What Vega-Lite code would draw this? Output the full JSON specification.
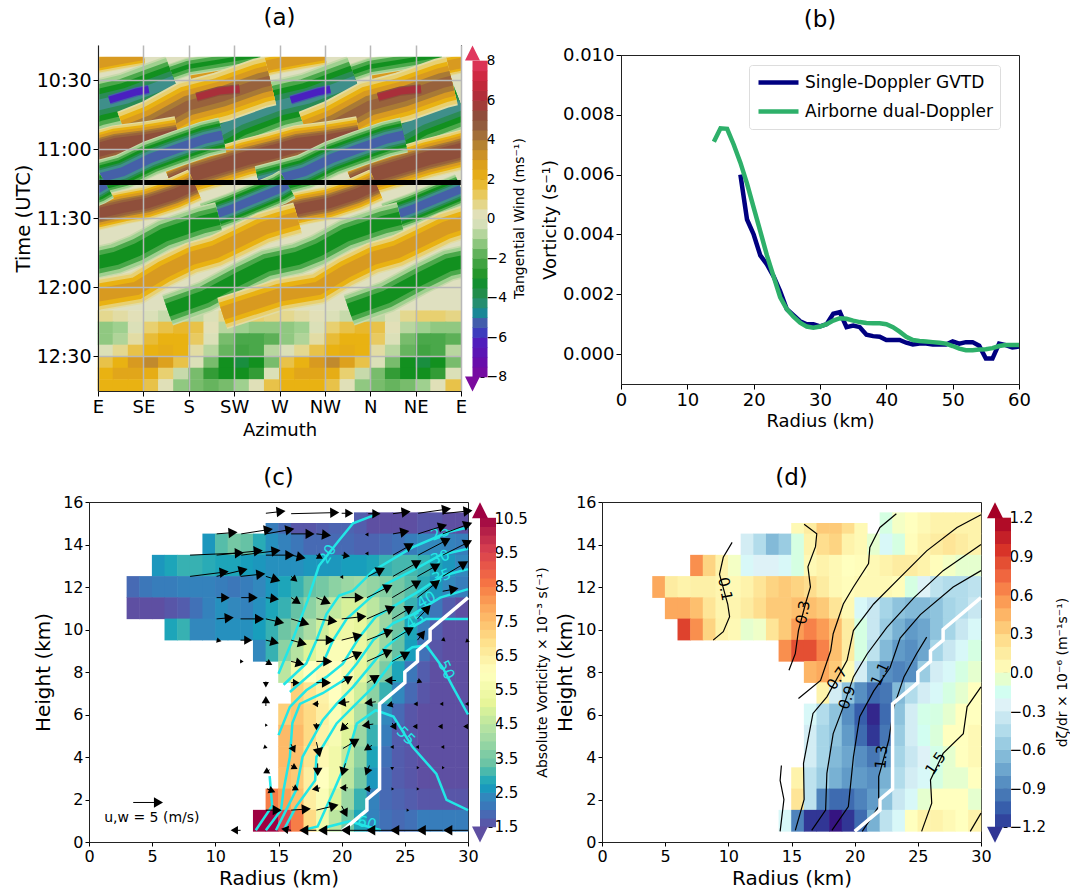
{"$schema":"https://vega.github.io/schema/vega-lite/v6.json","background":"white","padding":{"left":12,"top":6,"right":0,"bottom":0},"bounds":"flush","spacing":457,"resolve":{"scale":{"color":"independent","shape":"independent","angle":"independent","size":"independent"},"legend":{"color":"independent"}},
"config":{"font":"DejaVu Sans","view":{"stroke":"#222"},"axis":{"grid":false,"labelColor":"black","titleColor":"black","tickColor":"black","domainColor":"#222","titleFontWeight":"normal","labelFont":"DejaVu Sans","titleFont":"DejaVu Sans","labelOverlap":false,"labelFlush":false},"title":{"fontWeight":"normal","fontSize":23,"font":"DejaVu Sans"}},
"datasets":{
"cells":[
{"r":14.5,"z":14.5,"c":2.2},{"r":15.5,"z":14.5,"c":1.9,"d":0.05},{"r":16.5,"z":14.5,"c":1.6,"d":0.15},{"r":17.5,"z":14.5,"c":1.6,"d":0.35},{"r":18.5,"z":14.5,"c":1.7,"d":0.35},{"r":19.5,"z":14.5,"c":1.8,"d":0.25},{"r":20.5,"z":14.5,"c":1.8,"d":0.05},
{"r":21.5,"z":15,"c":1.7},{"r":22.5,"z":15,"c":1.5,"d":-0.1},{"r":23.5,"z":15,"c":1.5,"d":-0.02},{"r":24.5,"z":15,"c":1.5,"d":0},{"r":25.5,"z":15,"c":1.5,"d":0.05},{"r":26.5,"z":15,"c":1.6,"d":0.1},{"r":27.5,"z":15,"c":1.6,"d":0.1},{"r":28.5,"z":15,"c":1.5,"d":0.1},{"r":29.5,"z":15,"c":1.5,"d":0.1},
{"r":9.5,"z":14,"c":2.6},{"r":10.5,"z":14,"c":3.2},{"r":11.5,"z":14,"c":3.5,"d":-0.3},{"r":12.5,"z":14,"c":3.3,"d":-0.45},{"r":13.5,"z":14,"c":2.9,"d":-0.65},{"r":14.5,"z":14,"c":2.5,"d":-0.55},{"r":15.5,"z":14,"c":2.3,"d":-0.1},{"r":16.5,"z":14,"c":2.1,"d":0.1},{"r":17.5,"z":14,"c":1.9,"d":0.25},{"r":18.5,"z":14,"c":1.9,"d":0.3},{"r":19.5,"z":14,"c":1.9,"d":0.1},{"r":20.5,"z":14,"c":1.9,"d":0.05},{"r":21.5,"z":14,"c":1.8,"d":-0.05},{"r":22.5,"z":14,"c":1.8,"d":-0.2},{"r":23.5,"z":14,"c":1.9,"d":-0.1},{"r":24.5,"z":14,"c":2,"d":0.02},{"r":25.5,"z":14,"c":2.2,"d":0.1},{"r":26.5,"z":14,"c":2.4,"d":0.15},{"r":27.5,"z":14,"c":2.4,"d":0.2},{"r":28.5,"z":14,"c":2.3,"d":0.15},{"r":29.5,"z":14,"c":2.2,"d":0.1},
{"r":5.5,"z":13,"c":2.6},{"r":6.5,"z":13,"c":2.8},{"r":7.5,"z":13,"c":3,"d":0.6},{"r":8.5,"z":13,"c":3,"d":0.3},{"r":9.5,"z":13,"c":2.9,"d":0.1},{"r":10.5,"z":13,"c":2.8,"d":-0.02},{"r":11.5,"z":13,"c":2.8,"d":-0.2},{"r":12.5,"z":13,"c":2.7,"d":-0.25},{"r":13.5,"z":13,"c":2.6,"d":-0.25},{"r":14.5,"z":13,"c":2.5,"d":-0.2},{"r":15.5,"z":13,"c":2.5,"d":-0.1},{"r":16.5,"z":13,"c":2.5,"d":0.05},{"r":17.5,"z":13,"c":2.6,"d":0.1},{"r":18.5,"z":13,"c":2.6,"d":0.05},{"r":19.5,"z":13,"c":2.6,"d":0},{"r":20.5,"z":13,"c":2.7,"d":0.02},{"r":21.5,"z":13,"c":2.7,"d":0.05},{"r":22.5,"z":13,"c":2.8,"d":0.1},{"r":23.5,"z":13,"c":3,"d":0.15},{"r":24.5,"z":13,"c":3.1,"d":0.15},{"r":25.5,"z":13,"c":3.1,"d":0.1},{"r":26.5,"z":13,"c":3,"d":0.02},{"r":27.5,"z":13,"c":2.8,"d":-0.02},{"r":28.5,"z":13,"c":2.6,"d":-0.05},{"r":29.5,"z":13,"c":2.4,"d":-0.05},
{"r":3.5,"z":12,"c":1.9},{"r":4.5,"z":12,"c":2.1,"d":0.5},{"r":5.5,"z":12,"c":2.2,"d":0.15},{"r":6.5,"z":12,"c":2.2,"d":0.1},{"r":7.5,"z":12,"c":2.3,"d":0.12},{"r":8.5,"z":12,"c":2.3,"d":0.12},{"r":9.5,"z":12,"c":2.3,"d":0.08},{"r":10.5,"z":12,"c":2.2,"d":0.05},{"r":11.5,"z":12,"c":2.1,"d":0.1},{"r":12.5,"z":12,"c":2.2,"d":0.2},{"r":13.5,"z":12,"c":2.4,"d":0.3},{"r":14.5,"z":12,"c":2.6,"d":0.35},{"r":15.5,"z":12,"c":2.8,"d":0.3},{"r":16.5,"z":12,"c":3,"d":0.25},{"r":17.5,"z":12,"c":3.3,"d":0.15},{"r":18.5,"z":12,"c":3.5,"d":0.05},{"r":19.5,"z":12,"c":3.8,"d":0.02},{"r":20.5,"z":12,"c":4,"d":0.05},{"r":21.5,"z":12,"c":4.1,"d":0.05},{"r":22.5,"z":12,"c":3.9,"d":0.05},{"r":23.5,"z":12,"c":3.7,"d":0.02},{"r":24.5,"z":12,"c":3.5,"d":-0.1},{"r":25.5,"z":12,"c":3.2,"d":-0.25},{"r":26.5,"z":12,"c":2.9,"d":-0.4},{"r":27.5,"z":12,"c":2.6,"d":-0.45},{"r":28.5,"z":12,"c":2.4,"d":-0.45},{"r":29.5,"z":12,"c":2.2,"d":-0.4},
{"r":3.5,"z":11,"c":1.5},{"r":4.5,"z":11,"c":1.5},{"r":5.5,"z":11,"c":1.5,"d":0.5},{"r":6.5,"z":11,"c":1.6,"d":0.5},{"r":7.5,"z":11,"c":1.7,"d":0.4},{"r":8.5,"z":11,"c":2,"d":0.2},{"r":9.5,"z":11,"c":2.3,"d":0.08},{"r":10.5,"z":11,"c":2.5,"d":0.08},{"r":11.5,"z":11,"c":2.4,"d":0.15},{"r":12.5,"z":11,"c":2.3,"d":0.25},{"r":13.5,"z":11,"c":2.5,"d":0.35},{"r":14.5,"z":11,"c":2.8,"d":0.35},{"r":15.5,"z":11,"c":3,"d":0.4},{"r":16.5,"z":11,"c":3.3,"d":0.4},{"r":17.5,"z":11,"c":3.8,"d":0.35},{"r":18.5,"z":11,"c":4.2,"d":0.2},{"r":19.5,"z":11,"c":4.6,"d":0.05},{"r":20.5,"z":11,"c":4.9,"d":-0.2},{"r":21.5,"z":11,"c":4.9,"d":-0.35},{"r":22.5,"z":11,"c":4.5,"d":-0.5},{"r":23.5,"z":11,"c":4,"d":-0.6},{"r":24.5,"z":11,"c":3.5,"d":-0.65},{"r":25.5,"z":11,"c":3,"d":-0.65},{"r":26.5,"z":11,"c":2.5,"d":-0.6},{"r":27.5,"z":11,"c":2.1,"d":-0.5},{"r":28.5,"z":11,"c":1.7,"d":-0.45},{"r":29.5,"z":11,"c":1.5,"d":-0.35},
{"r":6.5,"z":10,"c":2.8,"d":0.9},{"r":7.5,"z":10,"c":3,"d":0.6},{"r":8.5,"z":10,"c":2.4,"d":0.3},{"r":9.5,"z":10,"c":2.4,"d":0.1},{"r":10.5,"z":10,"c":2.5,"d":0.05},{"r":11.5,"z":10,"c":2.5,"d":-0.05},{"r":12.5,"z":10,"c":2.5,"d":-0.03},{"r":13.5,"z":10,"c":2.7,"d":0.2},{"r":14.5,"z":10,"c":3,"d":0.35},{"r":15.5,"z":10,"c":3.4,"d":0.55},{"r":16.5,"z":10,"c":3.7,"d":0.65},{"r":17.5,"z":10,"c":4.2,"d":0.55},{"r":18.5,"z":10,"c":4.8,"d":0.4},{"r":19.5,"z":10,"c":5.3,"d":0.15},{"r":20.5,"z":10,"c":5.4,"d":-0.1},{"r":21.5,"z":10,"c":5.2,"d":-0.35},{"r":22.5,"z":10,"c":4.7,"d":-0.55},{"r":23.5,"z":10,"c":4,"d":-0.7},{"r":24.5,"z":10,"c":3.4,"d":-0.8},{"r":25.5,"z":10,"c":2.8,"d":-0.75},{"r":26.5,"z":10,"c":2.2,"d":-0.6},{"r":27.5,"z":10,"c":1.7,"d":-0.5},{"r":28.5,"z":10,"c":1.5,"d":-0.35},{"r":29.5,"z":10,"c":1.5,"d":-0.2},
{"r":13.5,"z":9,"c":2.4},{"r":14.5,"z":9,"c":3,"d":0.6},{"r":15.5,"z":9,"c":3.8,"d":0.85},{"r":16.5,"z":9,"c":4.4,"d":0.85},{"r":17.5,"z":9,"c":5,"d":0.65},{"r":18.5,"z":9,"c":5.5,"d":0.4},{"r":19.5,"z":9,"c":5.8,"d":0.15},{"r":20.5,"z":9,"c":5.8,"d":-0.1},{"r":21.5,"z":9,"c":5.3,"d":-0.4},{"r":22.5,"z":9,"c":4.7,"d":-0.65},{"r":23.5,"z":9,"c":4,"d":-0.8},{"r":24.5,"z":9,"c":3.3,"d":-0.85},{"r":25.5,"z":9,"c":2.7,"d":-0.75},{"r":26.5,"z":9,"c":2,"d":-0.5},{"r":27.5,"z":9,"c":1.6,"d":-0.35},{"r":28.5,"z":9,"c":1.5,"d":-0.2},{"r":29.5,"z":9,"c":1.5,"d":-0.1},
{"r":15.5,"z":8,"c":4.5},{"r":16.5,"z":8,"c":5.5,"d":0.45},{"r":17.5,"z":8,"c":6,"d":0.5},{"r":18.5,"z":8,"c":6.2,"d":0.35},{"r":19.5,"z":8,"c":6,"d":0.05},{"r":20.5,"z":8,"c":5.7,"d":-0.3},{"r":21.5,"z":8,"c":5.2,"d":-0.65},{"r":22.5,"z":8,"c":4.5,"d":-0.85},{"r":23.5,"z":8,"c":3.6,"d":-0.9},{"r":24.5,"z":8,"c":2.8,"d":-0.85},{"r":25.5,"z":8,"c":2.1,"d":-0.55},{"r":26.5,"z":8,"c":1.7,"d":-0.3},{"r":27.5,"z":8,"c":1.5,"d":-0.2},{"r":28.5,"z":8,"c":1.5,"d":-0.1},{"r":29.5,"z":8,"c":1.5,"d":-0.05},
{"r":16.5,"z":7,"c":7.2},{"r":17.5,"z":7,"c":6.8,"d":0.1},{"r":18.5,"z":7,"c":6.4,"d":-0.3},{"r":19.5,"z":7,"c":6,"d":-0.6},{"r":20.5,"z":7,"c":5.5,"d":-0.85},{"r":21.5,"z":7,"c":4.8,"d":-1},{"r":22.5,"z":7,"c":3.8,"d":-0.95},{"r":23.5,"z":7,"c":3,"d":-0.65},{"r":24.5,"z":7,"c":2.4,"d":-0.45},{"r":25.5,"z":7,"c":1.9,"d":-0.3},{"r":26.5,"z":7,"c":1.6,"d":-0.2},{"r":27.5,"z":7,"c":1.5,"d":-0.1},{"r":28.5,"z":7,"c":1.5,"d":-0.05},{"r":29.5,"z":7,"c":1.5,"d":0},
{"r":15.5,"z":6,"c":7.2},{"r":16.5,"z":6,"c":7.4,"d":-0.2},{"r":17.5,"z":6,"c":7,"d":-0.45},{"r":18.5,"z":6,"c":6.5,"d":-0.6},{"r":19.5,"z":6,"c":5.8,"d":-0.85},{"r":20.5,"z":6,"c":5.2,"d":-1.05},{"r":21.5,"z":6,"c":4.3,"d":-1.25},{"r":22.5,"z":6,"c":3.2,"d":-1},{"r":23.5,"z":6,"c":2.4,"d":-0.6},{"r":24.5,"z":6,"c":1.9,"d":-0.3},{"r":25.5,"z":6,"c":1.6,"d":-0.12},{"r":26.5,"z":6,"c":1.5,"d":-0.1},{"r":27.5,"z":6,"c":1.5,"d":-0.05},{"r":28.5,"z":6,"c":1.5,"d":0},{"r":29.5,"z":6,"c":1.5,"d":0},
{"r":15.5,"z":5,"c":7.6},{"r":16.5,"z":5,"c":7.6,"d":-0.3},{"r":17.5,"z":5,"c":7,"d":-0.5},{"r":18.5,"z":5,"c":6.4,"d":-0.6},{"r":19.5,"z":5,"c":5.7,"d":-0.8},{"r":20.5,"z":5,"c":5,"d":-1},{"r":21.5,"z":5,"c":4,"d":-1.2},{"r":22.5,"z":5,"c":3,"d":-0.95},{"r":23.5,"z":5,"c":2.2,"d":-0.55},{"r":24.5,"z":5,"c":1.7,"d":-0.3},{"r":25.5,"z":5,"c":1.6,"d":-0.15},{"r":26.5,"z":5,"c":1.5,"d":-0.08},{"r":27.5,"z":5,"c":1.5,"d":0},{"r":28.5,"z":5,"c":1.5,"d":0},{"r":29.5,"z":5,"c":1.5,"d":0.05},
{"r":15.5,"z":4,"c":7.6},{"r":16.5,"z":4,"c":7.5,"d":-0.3},{"r":17.5,"z":4,"c":6.8,"d":-0.5},{"r":18.5,"z":4,"c":6.2,"d":-0.65},{"r":19.5,"z":4,"c":5.5,"d":-0.75},{"r":20.5,"z":4,"c":4.6,"d":-0.85},{"r":21.5,"z":4,"c":3.8,"d":-0.95},{"r":22.5,"z":4,"c":2.8,"d":-0.8},{"r":23.5,"z":4,"c":2,"d":-0.5},{"r":24.5,"z":4,"c":1.7,"d":-0.35},{"r":25.5,"z":4,"c":1.6,"d":-0.25},{"r":26.5,"z":4,"c":1.5,"d":-0.12},{"r":27.5,"z":4,"c":1.5,"d":-0.05},{"r":28.5,"z":4,"c":1.5,"d":0},{"r":29.5,"z":4,"c":1.5,"d":0.05},
{"r":15.5,"z":3,"c":7.5,"d":0.1},{"r":16.5,"z":3,"c":7.3,"d":-0.4},{"r":17.5,"z":3,"c":6.5,"d":-0.55},{"r":18.5,"z":3,"c":6,"d":-0.7},{"r":19.5,"z":3,"c":5.5,"d":-0.8},{"r":20.5,"z":3,"c":4.5,"d":-0.8},{"r":21.5,"z":3,"c":3.5,"d":-0.85},{"r":22.5,"z":3,"c":2.6,"d":-0.7},{"r":23.5,"z":3,"c":1.9,"d":-0.45},{"r":24.5,"z":3,"c":1.7,"d":-0.3},{"r":25.5,"z":3,"c":1.6,"d":-0.2},{"r":26.5,"z":3,"c":1.5,"d":-0.1},{"r":27.5,"z":3,"c":1.5,"d":-0.05},{"r":28.5,"z":3,"c":1.5,"d":-0.05},{"r":29.5,"z":3,"c":1.5,"d":0},
{"r":14.5,"z":2,"c":8.5},{"r":15.5,"z":2,"c":8,"d":0.2},{"r":16.5,"z":2,"c":7.5,"d":-0.4},{"r":17.5,"z":2,"c":6.5,"d":-0.9},{"r":18.5,"z":2,"c":5.8,"d":-1},{"r":19.5,"z":2,"c":5,"d":-1},{"r":20.5,"z":2,"c":4,"d":-0.9},{"r":21.5,"z":2,"c":3,"d":-0.8},{"r":22.5,"z":2,"c":2.3,"d":-0.6},{"r":23.5,"z":2,"c":1.9,"d":-0.35},{"r":24.5,"z":2,"c":1.8,"d":-0.2},{"r":25.5,"z":2,"c":1.7,"d":-0.05},{"r":26.5,"z":2,"c":1.6,"d":0},{"r":27.5,"z":2,"c":1.6,"d":0},{"r":28.5,"z":2,"c":1.6,"d":0},{"r":29.5,"z":2,"c":1.6,"d":-0.05},
{"r":13.5,"z":1,"c":10.5},{"r":14.5,"z":1,"c":10.5,"d":-0.2},{"r":15.5,"z":1,"c":9.5,"d":-0.9},{"r":16.5,"z":1,"c":8.5,"d":-1.2},{"r":17.5,"z":1,"c":7,"d":-1.2},{"r":18.5,"z":1,"c":5.5,"d":-1.3},{"r":19.5,"z":1,"c":4.5,"d":-1.2},{"r":20.5,"z":1,"c":3.5,"d":-1},{"r":21.5,"z":1,"c":2.8,"d":-0.7},{"r":22.5,"z":1,"c":2.3,"d":-0.4},{"r":23.5,"z":1,"c":2,"d":-0.2},{"r":24.5,"z":1,"c":1.9,"d":0},{"r":25.5,"z":1,"c":2,"d":0.1},{"r":26.5,"z":1,"c":2.2,"d":0.1},{"r":27.5,"z":1,"c":2.2,"d":0.05},{"r":28.5,"z":1,"c":2.2,"d":0},{"r":29.5,"z":1,"c":2.2,"d":0.1}
],
"wind":[
{"r":30,"z":11.5},{"r":27,"z":10},{"r":27,"z":9.5},{"r":26,"z":9},{"r":26,"z":8.5},{"r":25,"z":8},{"r":25,"z":7.5},{"r":23,"z":6.5},{"r":23,"z":2.5},{"r":22,"z":2},{"r":22,"z":1.5},{"r":20,"z":0.5}
],
"meta":[{"i":"A1","s":1,"A":4,"h":23,"m":0},{"i":"A2","s":-1,"A":3.2,"h":20,"m":0},{"i":"Bn","s":-1,"A":4.8,"h":56,"m":0},{"i":"Bp","s":1,"A":4.8,"h":54,"m":0},{"i":"Bi","s":-1,"A":7,"h":20,"m":5},{"i":"Br","s":1,"A":7,"h":20,"m":5},{"i":"Cp","s":1,"A":6,"h":42,"m":0},{"i":"Cn","s":-1,"A":5.6,"h":38,"m":0},{"i":"Dp","s":1,"A":5.8,"h":36,"m":0},{"i":"Dn","s":-1,"A":5.6,"h":34,"m":0},{"i":"En","s":-1,"A":3.6,"h":36,"m":0},{"i":"Ep","s":1,"A":3.6,"h":36,"m":0}],
"stripes":[
{"i":"A1","n":0,"x":92.7,"y":30.3},{"i":"A1","n":0,"x":133.5,"y":27.1},{"i":"A1","n":0,"x":174.3,"y":23.1},{"i":"A1","n":0,"x":201.4,"y":20.9},{"i":"A1","n":0,"x":225.2,"y":19.1},
{"i":"A1","n":1,"x":-87.3,"y":30.3},{"i":"A1","n":1,"x":-46.5,"y":27.1},{"i":"A1","n":1,"x":-5.7,"y":23.1},{"i":"A1","n":1,"x":21.4,"y":20.9},{"i":"A1","n":1,"x":45.2,"y":19.1},
{"i":"A1","n":2,"x":272.7,"y":30.3},{"i":"A1","n":2,"x":313.5,"y":27.1},{"i":"A1","n":2,"x":354.3,"y":23.1},{"i":"A1","n":2,"x":381.4,"y":20.9},
{"i":"A2","n":0,"x":48.6,"y":30.3},{"i":"A2","n":0,"x":89.3,"y":24.2},{"i":"A2","n":0,"x":123.3,"y":21.8},{"i":"A2","n":0,"x":160.7,"y":19.1},
{"i":"A2","n":1,"x":228.6,"y":30.3},{"i":"A2","n":1,"x":269.3,"y":24.2},{"i":"A2","n":1,"x":303.3,"y":21.8},{"i":"A2","n":1,"x":340.7,"y":19.1},
{"i":"Bn","n":0,"x":113.1,"y":53.9},{"i":"Bn","n":0,"x":140.3,"y":47.4},{"i":"Bn","n":0,"x":180,"y":40.9},{"i":"Bn","n":0,"x":208.2,"y":38},{"i":"Bn","n":0,"x":235.4,"y":33.6},{"i":"Bn","n":0,"x":255.8,"y":30.3},
{"i":"Bn","n":1,"x":-66.9,"y":53.9},{"i":"Bn","n":1,"x":-39.7,"y":47.4},{"i":"Bn","n":1,"x":0,"y":40.9},{"i":"Bn","n":1,"x":28.2,"y":38},{"i":"Bn","n":1,"x":55.4,"y":33.6},{"i":"Bn","n":1,"x":75.8,"y":30.3},
{"i":"Bn","n":2,"x":293.1,"y":53.9},{"i":"Bn","n":2,"x":320.3,"y":47.4},{"i":"Bn","n":2,"x":360,"y":40.9},
{"i":"Bp","n":0,"x":28.2,"y":53.9},{"i":"Bp","n":0,"x":55.4,"y":49.2},{"i":"Bp","n":0,"x":89.3,"y":41.1},{"i":"Bp","n":0,"x":123.3,"y":37.2},{"i":"Bp","n":0,"x":160.7,"y":31.4},{"i":"Bp","n":0,"x":170.9,"y":30.3},
{"i":"Bp","n":1,"x":208.2,"y":53.9},{"i":"Bp","n":1,"x":235.4,"y":49.2},{"i":"Bp","n":1,"x":269.3,"y":41.1},{"i":"Bp","n":1,"x":303.3,"y":37.2},{"i":"Bp","n":1,"x":340.7,"y":31.4},{"i":"Bp","n":1,"x":350.9,"y":30.3},
{"i":"Bi","n":0,"x":11.2,"y":38.7},{"i":"Bi","n":0,"x":38.4,"y":35.1},{"i":"Bi","n":0,"x":50.3,"y":34.1},
{"i":"Bi","n":1,"x":191.2,"y":38.7},{"i":"Bi","n":1,"x":218.4,"y":35.1},{"i":"Bi","n":1,"x":230.3,"y":34.1},
{"i":"Br","n":0,"x":97.8,"y":37.5},{"i":"Br","n":0,"x":119.9,"y":34.8},{"i":"Br","n":0,"x":140.3,"y":33.9},
{"i":"Br","n":1,"x":277.8,"y":37.5},{"i":"Br","n":1,"x":299.9,"y":34.8},{"i":"Br","n":1,"x":320.3,"y":33.9},
{"i":"Cp","n":0,"x":72.4,"y":74.9},{"i":"Cp","n":0,"x":92.7,"y":71.2},{"i":"Cp","n":0,"x":119.9,"y":67.6},{"i":"Cp","n":0,"x":147.1,"y":64},{"i":"Cp","n":0,"x":174.3,"y":61.1},{"i":"Cp","n":0,"x":198,"y":58.2},{"i":"Cp","n":0,"x":228.6,"y":56.5},{"i":"Cp","n":0,"x":259.2,"y":54.3},
{"i":"Cp","n":1,"x":-60.1,"y":67.6},{"i":"Cp","n":1,"x":-32.9,"y":64},{"i":"Cp","n":1,"x":-5.7,"y":61.1},{"i":"Cp","n":1,"x":18,"y":58.2},{"i":"Cp","n":1,"x":48.6,"y":56.5},{"i":"Cp","n":1,"x":79.2,"y":54.3},
{"i":"Cp","n":2,"x":252.4,"y":74.9},{"i":"Cp","n":2,"x":272.7,"y":71.2},{"i":"Cp","n":2,"x":299.9,"y":67.6},{"i":"Cp","n":2,"x":327.1,"y":64},{"i":"Cp","n":2,"x":354.3,"y":61.1},{"i":"Cp","n":2,"x":378,"y":58.2},
{"i":"Cn","n":0,"x":-20,"y":75},{"i":"Cn","n":0,"x":0,"y":72.7},{"i":"Cn","n":0,"x":24.8,"y":69.8},{"i":"Cn","n":0,"x":52,"y":64},{"i":"Cn","n":0,"x":79.1,"y":59.7},{"i":"Cn","n":0,"x":106.3,"y":55.6},{"i":"Cn","n":0,"x":123.3,"y":53.9},
{"i":"Cn","n":1,"x":160,"y":75},{"i":"Cn","n":1,"x":180,"y":72.7},{"i":"Cn","n":1,"x":204.8,"y":69.8},{"i":"Cn","n":1,"x":232,"y":64},{"i":"Cn","n":1,"x":259.1,"y":59.7},{"i":"Cn","n":1,"x":286.3,"y":55.6},{"i":"Cn","n":1,"x":303.3,"y":53.9},
{"i":"Dp","n":0,"x":-24.5,"y":90},{"i":"Dp","n":0,"x":0,"y":87.9},{"i":"Dp","n":0,"x":24.8,"y":85.4},{"i":"Dp","n":0,"x":48.6,"y":83.5},{"i":"Dp","n":0,"x":75.7,"y":79.6},{"i":"Dp","n":0,"x":96.1,"y":75.6},
{"i":"Dp","n":1,"x":155.5,"y":90},{"i":"Dp","n":1,"x":180,"y":87.9},{"i":"Dp","n":1,"x":204.8,"y":85.4},{"i":"Dp","n":1,"x":228.6,"y":83.5},{"i":"Dp","n":1,"x":255.7,"y":79.6},{"i":"Dp","n":1,"x":276.1,"y":75.6},
{"i":"Dn","n":0,"x":106.3,"y":90},{"i":"Dn","n":0,"x":133.5,"y":85.7},{"i":"Dn","n":0,"x":157.3,"y":81.4},{"i":"Dn","n":0,"x":180,"y":77.3},{"i":"Dn","n":0,"x":187.8,"y":75.3},
{"i":"Dn","n":1,"x":-73.7,"y":90},{"i":"Dn","n":1,"x":-46.5,"y":85.7},{"i":"Dn","n":1,"x":-22.7,"y":81.4},{"i":"Dn","n":1,"x":0,"y":77.3},{"i":"Dn","n":1,"x":7.8,"y":75.3},
{"i":"Dn","n":2,"x":286.3,"y":90},{"i":"Dn","n":2,"x":313.5,"y":85.7},{"i":"Dn","n":2,"x":337.3,"y":81.4},{"i":"Dn","n":2,"x":360,"y":77.3},
{"i":"En","n":0,"x":69,"y":129.9},{"i":"En","n":0,"x":106.3,"y":124.1},{"i":"En","n":0,"x":140.3,"y":116.1},{"i":"En","n":0,"x":167.5,"y":110.3},{"i":"En","n":0,"x":198,"y":107.4},{"i":"En","n":0,"x":218.4,"y":103.8},{"i":"En","n":0,"x":245.6,"y":97.3},{"i":"En","n":0,"x":283,"y":91.8},{"i":"En","n":0,"x":300,"y":90},
{"i":"En","n":1,"x":-39.7,"y":116.1},{"i":"En","n":1,"x":-12.5,"y":110.3},{"i":"En","n":1,"x":18,"y":107.4},{"i":"En","n":1,"x":38.4,"y":103.8},{"i":"En","n":1,"x":65.6,"y":97.3},{"i":"En","n":1,"x":103,"y":91.8},{"i":"En","n":1,"x":120,"y":90},
{"i":"En","n":2,"x":249,"y":129.9},{"i":"En","n":2,"x":286.3,"y":124.1},{"i":"En","n":2,"x":320.3,"y":116.1},{"i":"En","n":2,"x":347.5,"y":110.3},{"i":"En","n":2,"x":378,"y":107.4},
{"i":"Ep","n":0,"x":123.3,"y":131.3},{"i":"Ep","n":0,"x":153.9,"y":127},{"i":"Ep","n":0,"x":180,"y":123.3},{"i":"Ep","n":0,"x":218.4,"y":120.4},{"i":"Ep","n":0,"x":245.6,"y":113.2},{"i":"Ep","n":0,"x":272.8,"y":107.4},{"i":"Ep","n":0,"x":296.5,"y":104.5},{"i":"Ep","n":0,"x":320.3,"y":99.5},{"i":"Ep","n":0,"x":344.1,"y":94.4},{"i":"Ep","n":0,"x":360,"y":92.2},{"i":"Ep","n":0,"x":378,"y":90},
{"i":"Ep","n":1,"x":-56.7,"y":131.3},{"i":"Ep","n":1,"x":-26.1,"y":127},{"i":"Ep","n":1,"x":0,"y":123.3},{"i":"Ep","n":1,"x":38.4,"y":120.4},{"i":"Ep","n":1,"x":65.6,"y":113.2},{"i":"Ep","n":1,"x":92.8,"y":107.4},{"i":"Ep","n":1,"x":116.5,"y":104.5},{"i":"Ep","n":1,"x":140.3,"y":99.5},{"i":"Ep","n":1,"x":164.1,"y":94.4},{"i":"Ep","n":1,"x":180,"y":92.2},{"i":"Ep","n":1,"x":198,"y":90}
],
"av":[
{"x":7.5,"y":132.5,"v":0.7},{"x":22.5,"y":132.5,"v":0.5},{"x":37.5,"y":132.5,"v":0.3},{"x":52.5,"y":132.5,"v":0},{"x":67.5,"y":132.5,"v":-0.5},{"x":82.5,"y":132.5,"v":-0.8},{"x":97.5,"y":132.5,"v":-0.6},{"x":112.5,"y":132.5,"v":0},{"x":127.5,"y":132.5,"v":0.7},{"x":142.5,"y":132.5,"v":1},{"x":157.5,"y":132.5,"v":1},{"x":172.5,"y":132.5,"v":0.8},{"x":187.5,"y":132.5,"v":0.7},{"x":202.5,"y":132.5,"v":0.5},{"x":217.5,"y":132.5,"v":0.3},{"x":232.5,"y":132.5,"v":0},{"x":247.5,"y":132.5,"v":-0.5},{"x":262.5,"y":132.5,"v":-0.8},{"x":277.5,"y":132.5,"v":-0.6},{"x":292.5,"y":132.5,"v":0},{"x":307.5,"y":132.5,"v":0.7},{"x":322.5,"y":132.5,"v":1},{"x":337.5,"y":132.5,"v":1},{"x":352.5,"y":132.5,"v":0.8},
{"x":7.5,"y":137.5,"v":-1.2},{"x":22.5,"y":137.5,"v":-1},{"x":37.5,"y":137.5,"v":0},{"x":52.5,"y":137.5,"v":1},{"x":67.5,"y":137.5,"v":1.5},{"x":82.5,"y":137.5,"v":1.8},{"x":97.5,"y":137.5,"v":1.5},{"x":112.5,"y":137.5,"v":0.3},{"x":127.5,"y":137.5,"v":-0.7},{"x":142.5,"y":137.5,"v":-1},{"x":157.5,"y":137.5,"v":-1.2},{"x":172.5,"y":137.5,"v":-1.2},{"x":187.5,"y":137.5,"v":-1.2},{"x":202.5,"y":137.5,"v":-1},{"x":217.5,"y":137.5,"v":0},{"x":232.5,"y":137.5,"v":1},{"x":247.5,"y":137.5,"v":1.5},{"x":262.5,"y":137.5,"v":1.8},{"x":277.5,"y":137.5,"v":1.5},{"x":292.5,"y":137.5,"v":0.3},{"x":307.5,"y":137.5,"v":-0.7},{"x":322.5,"y":137.5,"v":-1},{"x":337.5,"y":137.5,"v":-1.2},{"x":352.5,"y":137.5,"v":-1.2},
{"x":7.5,"y":142.5,"v":-1.2},{"x":22.5,"y":142.5,"v":-0.8},{"x":37.5,"y":142.5,"v":0.5},{"x":52.5,"y":142.5,"v":1.7},{"x":67.5,"y":142.5,"v":2},{"x":82.5,"y":142.5,"v":2},{"x":97.5,"y":142.5,"v":1.2},{"x":112.5,"y":142.5,"v":0},{"x":127.5,"y":142.5,"v":-1.5},{"x":142.5,"y":142.5,"v":-2},{"x":157.5,"y":142.5,"v":-2},{"x":172.5,"y":142.5,"v":-1.8},{"x":187.5,"y":142.5,"v":-1.2},{"x":202.5,"y":142.5,"v":-0.8},{"x":217.5,"y":142.5,"v":0.5},{"x":232.5,"y":142.5,"v":1.7},{"x":247.5,"y":142.5,"v":2},{"x":262.5,"y":142.5,"v":2},{"x":277.5,"y":142.5,"v":1.2},{"x":292.5,"y":142.5,"v":0},{"x":307.5,"y":142.5,"v":-1.5},{"x":322.5,"y":142.5,"v":-2},{"x":337.5,"y":142.5,"v":-2},{"x":352.5,"y":142.5,"v":-1.8},
{"x":7.5,"y":147.5,"v":0},{"x":22.5,"y":147.5,"v":0.7},{"x":37.5,"y":147.5,"v":1.5},{"x":52.5,"y":147.5,"v":2},{"x":67.5,"y":147.5,"v":2.2},{"x":82.5,"y":147.5,"v":2},{"x":97.5,"y":147.5,"v":0.5},{"x":112.5,"y":147.5,"v":-0.7},{"x":127.5,"y":147.5,"v":-1.7},{"x":142.5,"y":147.5,"v":-2.2},{"x":157.5,"y":147.5,"v":-2},{"x":172.5,"y":147.5,"v":-0.7},{"x":187.5,"y":147.5,"v":0},{"x":202.5,"y":147.5,"v":0.7},{"x":217.5,"y":147.5,"v":1.5},{"x":232.5,"y":147.5,"v":2},{"x":247.5,"y":147.5,"v":2.2},{"x":262.5,"y":147.5,"v":2},{"x":277.5,"y":147.5,"v":0.5},{"x":292.5,"y":147.5,"v":-0.7},{"x":307.5,"y":147.5,"v":-1.7},{"x":322.5,"y":147.5,"v":-2.2},{"x":337.5,"y":147.5,"v":-2},{"x":352.5,"y":147.5,"v":-0.7},
{"x":7.5,"y":152.5,"v":1.5},{"x":22.5,"y":152.5,"v":2},{"x":37.5,"y":152.5,"v":3},{"x":52.5,"y":152.5,"v":3.5},{"x":67.5,"y":152.5,"v":2.7},{"x":82.5,"y":152.5,"v":1.5},{"x":97.5,"y":152.5,"v":0},{"x":112.5,"y":152.5,"v":-1.5},{"x":127.5,"y":152.5,"v":-3},{"x":142.5,"y":152.5,"v":-3.5},{"x":157.5,"y":152.5,"v":-3},{"x":172.5,"y":152.5,"v":-1.5},{"x":187.5,"y":152.5,"v":1.5},{"x":202.5,"y":152.5,"v":2},{"x":217.5,"y":152.5,"v":3},{"x":232.5,"y":152.5,"v":3.5},{"x":247.5,"y":152.5,"v":2.7},{"x":262.5,"y":152.5,"v":1.5},{"x":277.5,"y":152.5,"v":0},{"x":292.5,"y":152.5,"v":-1.5},{"x":307.5,"y":152.5,"v":-3},{"x":322.5,"y":152.5,"v":-3.5},{"x":337.5,"y":152.5,"v":-3},{"x":352.5,"y":152.5,"v":-1.5},
{"x":7.5,"y":157.5,"v":2},{"x":22.5,"y":157.5,"v":2.5},{"x":37.5,"y":157.5,"v":2.5},{"x":52.5,"y":157.5,"v":2.2},{"x":67.5,"y":157.5,"v":1},{"x":82.5,"y":157.5,"v":-0.5},{"x":97.5,"y":157.5,"v":-1.5},{"x":112.5,"y":157.5,"v":-2.5},{"x":127.5,"y":157.5,"v":-3},{"x":142.5,"y":157.5,"v":-3},{"x":157.5,"y":157.5,"v":-2.5},{"x":172.5,"y":157.5,"v":0},{"x":187.5,"y":157.5,"v":2},{"x":202.5,"y":157.5,"v":2.5},{"x":217.5,"y":157.5,"v":2.5},{"x":232.5,"y":157.5,"v":2.2},{"x":247.5,"y":157.5,"v":1},{"x":262.5,"y":157.5,"v":-0.5},{"x":277.5,"y":157.5,"v":-1.5},{"x":292.5,"y":157.5,"v":-2.5},{"x":307.5,"y":157.5,"v":-3},{"x":322.5,"y":157.5,"v":-3},{"x":337.5,"y":157.5,"v":-2.5},{"x":352.5,"y":157.5,"v":0},
{"x":7.5,"y":162.5,"v":2},{"x":22.5,"y":162.5,"v":2},{"x":37.5,"y":162.5,"v":2},{"x":52.5,"y":162.5,"v":1.5},{"x":67.5,"y":162.5,"v":0.2},{"x":82.5,"y":162.5,"v":-1.2},{"x":97.5,"y":162.5,"v":-1.5},{"x":112.5,"y":162.5,"v":-1.7},{"x":127.5,"y":162.5,"v":-1.5},{"x":142.5,"y":162.5,"v":-1},{"x":157.5,"y":162.5,"v":0.2},{"x":172.5,"y":162.5,"v":1.5},{"x":187.5,"y":162.5,"v":2},{"x":202.5,"y":162.5,"v":2},{"x":217.5,"y":162.5,"v":2},{"x":232.5,"y":162.5,"v":1.5},{"x":247.5,"y":162.5,"v":0.2},{"x":262.5,"y":162.5,"v":-1.2},{"x":277.5,"y":162.5,"v":-1.5},{"x":292.5,"y":162.5,"v":-1.7},{"x":307.5,"y":162.5,"v":-1.5},{"x":322.5,"y":162.5,"v":-1},{"x":337.5,"y":162.5,"v":0.2},{"x":352.5,"y":162.5,"v":1.5}
]},
"vconcat":[{"bounds":"flush","spacing":0,"resolve":{"scale":{"color":"independent","shape":"independent","angle":"independent","size":"independent"},"legend":{"color":"independent"}},"hconcat":[
{"width":9,"height":10,"data":{"values":[{"s":0}]},"mark":{"type":"point","opacity":0},"encoding":{},"view":{"stroke":null}},
{"width":363,"height":346,"title":{"text":"(a)","offset":15},"layer":[
{"data":{"name":"av"},"mark":{"type":"rect","width":16,"height":12},"encoding":{"x":{"field":"x","type":"quantitative","title":"Azimuth","scale":{"domain":[0,360],"nice":false},"axis":{"values":[0,45,90,135,180,225,270,315,360],"labelExpr":"['E','SE','S','SW','W','NW','N','NE','E'][datum.value/45]","labelFontSize":18,"titleFontSize":18,"labelAngle":0,"grid":true,"gridColor":"#b8b8b8","gridWidth":1.5,"zindex":1,"titlePadding":5}},"y":{"field":"y","type":"quantitative","title":"Time (UTC)","scale":{"domain":[165,14.8],"nice":false,"zero":false},"axis":{"values":[30,60,90,120,150],"labelExpr":"datum.value==30?'10:30':datum.value==60?'11:00':datum.value==90?'11:30':datum.value==120?'12:00':'12:30'","labelFontSize":19,"titleFontSize":19.5,"grid":true,"gridColor":"#b8b8b8","gridWidth":1.5,"zindex":1,"titlePadding":3}},"color":{"field":"v","type":"quantitative","legend":null,"scale":{"domain":[-8,-7,-6,-5.2,-4.6,-4,-3,-2,-1,-0.3,0.3,1,2,3,4,5,6,7,8],"range":["#7b0b9e","#6010b0","#4a20c0","#4560a8","#3f8f8a","#2a8c55","#12901f","#4aa84a","#9fd08f","#d4dfb8","#e2e0b8","#e8d070","#e9b212","#d89a20","#a97a35","#88543f","#a92f3a","#c9243a","#e0385e"]}}}},
{"data":{"values":[{"y":19.9,"y2":130}]},"mark":{"type":"rect","color":"#dfe0c0"},"encoding":{"y":{"field":"y","type":"quantitative"},"y2":{"field":"y2"}}},
{"data":{"name":"stripes"},"transform":[{"lookup":"i","from":{"data":{"name":"meta"},"key":"i","fields":["s","A","h","m"]}},{"calculate":"[0.5,1,2,3,4,4.6,5.2,6,7]","as":"lv"},{"flatten":["lv"]},{"filter":"datum.lv<datum.A && datum.lv>=datum.m"},{"calculate":"datum.s*datum.lv","as":"v"},{"calculate":"datum.h*2/PI*acos(datum.lv/datum.A)","as":"w"}],"mark":{"type":"line","clip":true,"strokeCap":"butt"},"encoding":{"x":{"field":"x","type":"quantitative"},"y":{"field":"y","type":"quantitative"},"color":{"field":"v","type":"quantitative","legend":null},"strokeWidth":{"field":"w","type":"quantitative","scale":null},"detail":[{"field":"i"},{"field":"n"},{"field":"lv"}],"order":{"value":null}}},
{"data":{"values":[{"y":14.8,"y2":19.9}]},"mark":{"type":"rect","color":"white"},"encoding":{"y":{"field":"y","type":"quantitative"},"y2":{"field":"y2"}}},
{"data":{"values":[{"y":74.5}]},"mark":{"type":"rule","color":"black","strokeWidth":5},"encoding":{"y":{"field":"y","type":"quantitative"}}}]},
{"width":4,"height":10,"data":{"values":[{"s":0}]},"mark":{"type":"point","opacity":0},"encoding":{},"view":{"stroke":null}},
{"width":15,"height":346,"view":{"stroke":null},"layer":[{"data":{"values":[{"v":-7.75},{"v":-7.25},{"v":-6.75},{"v":-6.25},{"v":-5.75},{"v":-5.25},{"v":-4.75},{"v":-4.25},{"v":-3.75},{"v":-3.25},{"v":-2.75},{"v":-2.25},{"v":-1.75},{"v":-1.25},{"v":-0.75},{"v":-0.25},{"v":0.25},{"v":0.75},{"v":1.25},{"v":1.75},{"v":2.25},{"v":2.75},{"v":3.25},{"v":3.75},{"v":4.25},{"v":4.75},{"v":5.25},{"v":5.75},{"v":6.25},{"v":6.75},{"v":7.25},{"v":7.75}]},"mark":{"type":"rect","width":15,"height":10.5},"encoding":{"y":{"field":"v","type":"quantitative","scale":{"domain":[-8.71,8.81],"nice":false,"zero":false},"axis":{"orient":"right","values":[-8,-6,-4,-2,0,2,4,6,8],"labelExpr":"replace(datum.label,'-','−')","labelOverlap":false,"labelFontSize":14,"titleFontSize":14,"title":"Tangential Wind (ms⁻¹)","titleAngle":270,"tickSize":4,"domain":false,"titlePadding":20}},"color":{"field":"v","type":"quantitative","legend":null,"scale":{"domain":[-8,-7,-6,-5.2,-4.6,-4,-3,-2,-1,-0.3,0.3,1,2,3,4,5,6,7,8],"range":["#7b0b9e","#6010b0","#4a20c0","#4560a8","#3f8f8a","#2a8c55","#12901f","#4aa84a","#9fd08f","#d4dfb8","#e2e0b8","#e8d070","#e9b212","#d89a20","#a97a35","#88543f","#a92f3a","#c9243a","#e0385e"]}}}},{"data":{"values":[{"v":8.4,"e":"top"},{"v":-8.35,"e":"bottom"}]},"mark":{"type":"point","filled":true,"size":225,"opacity":1},"encoding":{"y":{"field":"v","type":"quantitative"},"shape":{"field":"e","type":"nominal","legend":null,"scale":{"domain":["top","bottom"],"range":["M-1,1L1,1L0,-1Z","M-1,-1L1,-1L0,1Z"]}},"color":{"field":"e","type":"nominal","legend":null,"scale":{"domain":["top","bottom"],"range":["#e0385e","#7b0b9e"]}}}}],"resolve":{"scale":{"color":"independent"}}},
{"width":141,"height":10,"data":{"values":[{"s":0}]},"mark":{"type":"point","opacity":0},"encoding":{},"view":{"stroke":null}},
{"bounds":"flush","spacing":0,"resolve":{"scale":{"color":"independent"},"legend":{"color":"independent"}},"vconcat":[{"width":398,"height":10,"data":{"values":[{"s":0}]},"mark":{"type":"point","opacity":0},"encoding":{},"view":{"stroke":null}},
{"width":398,"height":329,"title":{"text":"(b)","offset":14},"data":{"values":[
{"r":18,"v":0.006,"s":"Single-Doppler GVTD"},{"r":19,"v":0.0045,"s":"Single-Doppler GVTD"},{"r":20,"v":0.004,"s":"Single-Doppler GVTD"},{"r":21,"v":0.0033,"s":"Single-Doppler GVTD"},{"r":22,"v":0.003,"s":"Single-Doppler GVTD"},{"r":23,"v":0.0026,"s":"Single-Doppler GVTD"},{"r":24,"v":0.0021,"s":"Single-Doppler GVTD"},{"r":25,"v":0.0015,"s":"Single-Doppler GVTD"},{"r":26,"v":0.0013,"s":"Single-Doppler GVTD"},{"r":27,"v":0.0011,"s":"Single-Doppler GVTD"},{"r":28,"v":0.001,"s":"Single-Doppler GVTD"},{"r":29,"v":0.001,"s":"Single-Doppler GVTD"},{"r":30,"v":0.00093,"s":"Single-Doppler GVTD"},{"r":31,"v":0.001,"s":"Single-Doppler GVTD"},{"r":32,"v":0.00135,"s":"Single-Doppler GVTD"},{"r":33,"v":0.0014,"s":"Single-Doppler GVTD"},{"r":34,"v":0.0009,"s":"Single-Doppler GVTD"},{"r":35,"v":0.00095,"s":"Single-Doppler GVTD"},{"r":36,"v":0.0009,"s":"Single-Doppler GVTD"},{"r":37,"v":0.00065,"s":"Single-Doppler GVTD"},{"r":38,"v":0.0006,"s":"Single-Doppler GVTD"},{"r":39,"v":0.00058,"s":"Single-Doppler GVTD"},{"r":40,"v":0.00047,"s":"Single-Doppler GVTD"},{"r":41,"v":0.00047,"s":"Single-Doppler GVTD"},{"r":42,"v":0.00047,"s":"Single-Doppler GVTD"},{"r":43,"v":0.00038,"s":"Single-Doppler GVTD"},{"r":44,"v":0.00032,"s":"Single-Doppler GVTD"},{"r":45,"v":0.00035,"s":"Single-Doppler GVTD"},{"r":46,"v":0.00035,"s":"Single-Doppler GVTD"},{"r":47,"v":0.00032,"s":"Single-Doppler GVTD"},{"r":48,"v":0.00032,"s":"Single-Doppler GVTD"},{"r":49,"v":0.00032,"s":"Single-Doppler GVTD"},{"r":50,"v":0.00042,"s":"Single-Doppler GVTD"},{"r":51,"v":0.00035,"s":"Single-Doppler GVTD"},{"r":52,"v":0.0004,"s":"Single-Doppler GVTD"},{"r":53,"v":0.0004,"s":"Single-Doppler GVTD"},{"r":54,"v":0.00028,"s":"Single-Doppler GVTD"},{"r":55,"v":-0.00015,"s":"Single-Doppler GVTD"},{"r":56,"v":-0.00015,"s":"Single-Doppler GVTD"},{"r":57,"v":0.00035,"s":"Single-Doppler GVTD"},{"r":58,"v":0.0003,"s":"Single-Doppler GVTD"},{"r":59,"v":0.00022,"s":"Single-Doppler GVTD"},{"r":60,"v":0.00025,"s":"Single-Doppler GVTD"},
{"r":14,"v":0.0071,"s":"Airborne dual-Doppler"},{"r":15,"v":0.00755,"s":"Airborne dual-Doppler"},{"r":16,"v":0.00753,"s":"Airborne dual-Doppler"},{"r":17,"v":0.007,"s":"Airborne dual-Doppler"},{"r":18,"v":0.0064,"s":"Airborne dual-Doppler"},{"r":19,"v":0.0057,"s":"Airborne dual-Doppler"},{"r":20,"v":0.0049,"s":"Airborne dual-Doppler"},{"r":21,"v":0.0041,"s":"Airborne dual-Doppler"},{"r":22,"v":0.0033,"s":"Airborne dual-Doppler"},{"r":23,"v":0.0026,"s":"Airborne dual-Doppler"},{"r":24,"v":0.0019,"s":"Airborne dual-Doppler"},{"r":25,"v":0.0015,"s":"Airborne dual-Doppler"},{"r":26,"v":0.00125,"s":"Airborne dual-Doppler"},{"r":27,"v":0.00105,"s":"Airborne dual-Doppler"},{"r":28,"v":0.00092,"s":"Airborne dual-Doppler"},{"r":29,"v":0.00088,"s":"Airborne dual-Doppler"},{"r":30,"v":0.00092,"s":"Airborne dual-Doppler"},{"r":31,"v":0.001,"s":"Airborne dual-Doppler"},{"r":32,"v":0.00112,"s":"Airborne dual-Doppler"},{"r":33,"v":0.0012,"s":"Airborne dual-Doppler"},{"r":34,"v":0.00118,"s":"Airborne dual-Doppler"},{"r":35,"v":0.00112,"s":"Airborne dual-Doppler"},{"r":36,"v":0.00107,"s":"Airborne dual-Doppler"},{"r":37,"v":0.00104,"s":"Airborne dual-Doppler"},{"r":38,"v":0.00103,"s":"Airborne dual-Doppler"},{"r":39,"v":0.00103,"s":"Airborne dual-Doppler"},{"r":40,"v":0.001,"s":"Airborne dual-Doppler"},{"r":41,"v":0.0009,"s":"Airborne dual-Doppler"},{"r":42,"v":0.00075,"s":"Airborne dual-Doppler"},{"r":43,"v":0.00058,"s":"Airborne dual-Doppler"},{"r":44,"v":0.00047,"s":"Airborne dual-Doppler"},{"r":45,"v":0.00044,"s":"Airborne dual-Doppler"},{"r":46,"v":0.00042,"s":"Airborne dual-Doppler"},{"r":47,"v":0.0004,"s":"Airborne dual-Doppler"},{"r":48,"v":0.00038,"s":"Airborne dual-Doppler"},{"r":49,"v":0.00035,"s":"Airborne dual-Doppler"},{"r":50,"v":0.00027,"s":"Airborne dual-Doppler"},{"r":51,"v":0.00018,"s":"Airborne dual-Doppler"},{"r":52,"v":0.00013,"s":"Airborne dual-Doppler"},{"r":53,"v":0.00013,"s":"Airborne dual-Doppler"},{"r":54,"v":0.00015,"s":"Airborne dual-Doppler"},{"r":55,"v":0.00016,"s":"Airborne dual-Doppler"},{"r":56,"v":0.0002,"s":"Airborne dual-Doppler"},{"r":57,"v":0.00027,"s":"Airborne dual-Doppler"},{"r":58,"v":0.0003,"s":"Airborne dual-Doppler"},{"r":59,"v":0.0003,"s":"Airborne dual-Doppler"},{"r":60,"v":0.0003,"s":"Airborne dual-Doppler"}
]},"mark":{"type":"line","strokeWidth":4.5},"encoding":{"x":{"field":"r","type":"quantitative","title":"Radius (km)","scale":{"domain":[0,60],"nice":false},"axis":{"values":[0,10,20,30,40,50,60],"labelFontSize":18,"titleFontSize":18,"titlePadding":3}},"y":{"field":"v","type":"quantitative","title":"Vorticity (s⁻¹)","scale":{"domain":[-0.001,0.01],"nice":false},"axis":{"values":[0,0.002,0.004,0.006,0.008,0.01],"format":".3f","labelFontSize":18,"titleFontSize":18,"titlePadding":3}},"color":{"field":"s","type":"nominal","scale":{"domain":["Single-Doppler GVTD","Airborne dual-Doppler"],"range":["#000080","#2eb06a"]},"legend":{"title":null,"orient":"none","legendX":128,"legendY":10,"labelLimit":300,"labelFontSize":17,"symbolType":"stroke","symbolStrokeWidth":4.5,"symbolSize":1600,"clipHeight":21,"fillColor":"white","strokeColor":"#ddd","cornerRadius":3,"padding":7,"rowPadding":8,"labelColor":"black"}}}}]}]},
{"bounds":"flush","spacing":0,"resolve":{"scale":{"color":"independent","shape":"independent","angle":"independent","size":"independent"},"legend":{"color":"independent"}},"hconcat":[
{"width":379,"height":340,"title":{"text":"(c)","offset":4},"encoding":{"x":{"field":"r","type":"quantitative","title":"Radius (km)","scale":{"domain":[0,30],"nice":false},"axis":{"values":[0,5,10,15,20,25,30],"labelFontSize":16,"titleFontSize":20,"titlePadding":4,"tickSize":4}},"y":{"field":"z","type":"quantitative","title":"Height (km)","scale":{"domain":[0,16],"nice":false},"axis":{"values":[0,2,4,6,8,10,12,14,16],"labelFontSize":16,"titleFontSize":20,"titlePadding":9,"tickSize":4}}},"layer":[
{"data":{"name":"cells"},"mark":{"type":"rect","width":13.2,"height":21.8},"encoding":{"color":{"field":"c","type":"quantitative","legend":null,"scale":{"domain":[1.5,2.4,3.3,4.2,5.1,6,6.9,7.8,8.7,9.6,10.5],"range":["#5e4fa2","#3288bd","#66c2a5","#abdda4","#e6f598","#ffffbf","#fee08b","#fdae61","#f46d43","#d53e4f","#9e0142"]}}}},
{"data":{"values":[
{"l":"20","r":22.9,"z":15.45},{"l":"20","r":20.9,"z":15},{"l":"20","r":19.8,"z":14.2},{"l":"20","r":18.2,"z":13},{"l":"20","r":17.3,"z":11.36},{"l":"20","r":16.1,"z":9.48},{"l":"20","r":15,"z":7.92},
{"l":"25","r":30,"z":14.8},{"l":"25","r":28.5,"z":14.6},{"l":"25","r":25.6,"z":13.86},{"l":"25","r":22.5,"z":12.77},{"l":"25","r":20.9,"z":11.83},{"l":"25","r":19.8,"z":11.6},{"l":"25","r":18.8,"z":10.73},{"l":"25","r":18,"z":9.48},{"l":"25","r":17.2,"z":8.4},{"l":"25","r":15.4,"z":7.4},
{"l":"30","r":30,"z":13.8},{"l":"30","r":27.8,"z":13.5},{"l":"30","r":25.6,"z":12.77},{"l":"30","r":23.5,"z":12.14},{"l":"30","r":22,"z":11.36},{"l":"30","r":20.4,"z":10.5},{"l":"30","r":19.3,"z":9.48},{"l":"30","r":18.5,"z":8.4},{"l":"30","r":15.9,"z":7.06},
{"l":"35","r":30,"z":12.84},{"l":"35","r":28,"z":12.53},{"l":"35","r":26.2,"z":11.83},{"l":"35","r":24,"z":11.05},{"l":"35","r":22.7,"z":10.6},{"l":"35","r":21.4,"z":9.64},{"l":"35","r":20.1,"z":8.39},{"l":"35","r":18.8,"z":7.77},{"l":"35","r":17.2,"z":7.14},{"l":"35","r":15.9,"z":6.36},{"l":"35","r":15,"z":5.03},
{"l":"35b","r":14.3,"z":3.1},{"l":"35b","r":14.5,"z":1.7},{"l":"35b","r":13.2,"z":0.55},
{"l":"40","r":30,"z":11.9},{"l":"40","r":27.8,"z":11.5},{"l":"40","r":25.6,"z":10.7},{"l":"40","r":24.1,"z":10.3},{"l":"40","r":22.5,"z":9.5},{"l":"40","r":21.2,"z":8.4},{"l":"40","r":20.1,"z":7.6},{"l":"40","r":18.5,"z":7},{"l":"40","r":16.7,"z":6.5},{"l":"40","r":16.1,"z":5.6},{"l":"40","r":15.9,"z":4},{"l":"40","r":15.4,"z":2.45},{"l":"40","r":15.2,"z":1.5},{"l":"40","r":14,"z":0.55},
{"l":"45","r":30,"z":10.5},{"l":"45","r":26.7,"z":10.5},{"l":"45","r":25.1,"z":9.95},{"l":"45","r":23.5,"z":9.17},{"l":"45","r":22.2,"z":8.23},{"l":"45","r":20.9,"z":7.3},{"l":"45","r":19.6,"z":6.5},{"l":"45","r":18.5,"z":5.73},{"l":"45","r":16.9,"z":4},{"l":"45","r":16.4,"z":2.45},{"l":"45","r":15.6,"z":1.5},{"l":"45","r":14.8,"z":0.55},
{"l":"50","r":30,"z":6},{"l":"50","r":28.8,"z":7.3},{"l":"50","r":28,"z":8.2},{"l":"50","r":26.7,"z":9.25},{"l":"50","r":25.6,"z":9.17},{"l":"50","r":24.1,"z":8.55},{"l":"50","r":22.5,"z":7.3},{"l":"50","r":20.9,"z":6.36},{"l":"50","r":19.6,"z":5.58},{"l":"50","r":18,"z":4},{"l":"50","r":17.9,"z":2.9},{"l":"50","r":16.4,"z":1.67},{"l":"50","r":15.4,"z":0.55},
{"l":"55","r":30,"z":1.5},{"l":"55","r":28.3,"z":1.98},{"l":"55","r":27.5,"z":3.2},{"l":"55","r":25.6,"z":4.48},{"l":"55","r":24.1,"z":5.9},{"l":"55","r":22.7,"z":6.2},{"l":"55","r":21.2,"z":5.58},{"l":"55","r":20.2,"z":3.55},{"l":"55","r":19.4,"z":2.45},{"l":"55","r":18.1,"z":0.73},{"l":"55","r":16.9,"z":0.55},
{"l":"60","r":23.1,"z":0.55},{"l":"60","r":20.6,"z":0.97},{"l":"60","r":19,"z":0.73},{"l":"60","r":18.4,"z":0.55}
]},"mark":{"type":"line","color":"#22e6e6","strokeWidth":2.5},"encoding":{"detail":{"field":"l"},"order":{"value":null}}},
{"data":{"name":"wind"},"mark":{"type":"line","color":"white","strokeWidth":3.5},"encoding":{"order":{"value":null}}},
{"data":{"values":[{"r":18.9,"z":13.55,"l":"20"},{"r":27.8,"z":14.55,"l":"25"},{"r":27.8,"z":13.4,"l":"30"},{"r":27.9,"z":12.5,"l":"35"},{"r":26.7,"z":11.4,"l":"40"},{"r":25.8,"z":10.4,"l":"45"},{"r":28.3,"z":8.1,"l":"50"},{"r":25.1,"z":5,"l":"55"},{"r":22,"z":0.9,"l":"60"}]},"mark":{"type":"text","color":"#22e6e6","fontSize":15},"encoding":{"text":{"field":"l"},"angle":{"field":"l","type":"nominal","legend":null,"scale":{"type":"ordinal","domain":["20","25","30","35","40","45","50","55","60"],"range":[300,340,340,340,330,330,65,45,15]}}}},
{"data":{"values":[
{"r":14,"z":15.47,"r2":15.2,"z2":15.55},{"r":16,"z":15.45,"r2":19.45,"z2":15.5},{"r":20,"z":15.47,"r2":20.6,"z2":15.47},{"r":22.1,"z":15.45,"r2":22.75,"z2":15.45},{"r":24.06,"z":15.45,"r2":25.1,"z2":15.53},{"r":26.05,"z":15.47,"r2":28.3,"z2":15.66},{"r":28,"z":15.45,"r2":30,"z2":15.58},
{"r":10.1,"z":14.5,"r2":11.4,"z2":14.56},{"r":12.05,"z":14.5,"r2":14.2,"z2":14.7},{"r":14,"z":14.5,"r2":15.9,"z2":14.7},{"r":16,"z":14.5,"r2":17.5,"z2":14.5},{"r":18,"z":14.5,"r2":18.8,"z2":14.45},{"r":22,"z":14.5,"r2":22.05,"z2":14.45},{"r":24.06,"z":14.5,"r2":25,"z2":14.6},{"r":26.05,"z":14.5,"r2":28,"z2":14.87},{"r":28,"z":14.5,"r2":30,"z2":14.95},
{"r":8,"z":13.5,"r2":11.9,"z2":13.6},{"r":10.1,"z":13.5,"r2":13.4,"z2":13.7},{"r":12.05,"z":13.5,"r2":14.8,"z2":13.7},{"r":14,"z":13.5,"r2":15.9,"z2":13.5},{"r":16,"z":13.5,"r2":16.8,"z2":13.4},{"r":18,"z":13.5,"r2":18.3,"z2":13.4},{"r":20,"z":13.5,"r2":20.4,"z2":13.47},{"r":22,"z":13.6,"r2":22.05,"z2":13.55},{"r":24.06,"z":13.5,"r2":25.4,"z2":13.95},{"r":26.05,"z":13.5,"r2":28.3,"z2":14.2},{"r":28,"z":13.5,"r2":30,"z2":14.1},
{"r":8,"z":12.5,"r2":10.7,"z2":12.7},{"r":10.1,"z":12.5,"r2":12.2,"z2":12.8},{"r":12,"z":12.5,"r2":13.6,"z2":12.6},{"r":14,"z":12.5,"r2":14.8,"z2":12.35},{"r":16,"z":12.5,"r2":16.3,"z2":12.35},{"r":20,"z":12.5,"r2":20.05,"z2":12.45},{"r":22.1,"z":12.5,"r2":23.1,"z2":12.8},{"r":24.06,"z":12.5,"r2":26,"z2":13.15},{"r":26,"z":12.5,"r2":27.5,"z2":13},{"r":28,"z":12.5,"r2":29.7,"z2":13.1},
{"r":10.1,"z":11.5,"r2":10.8,"z2":11.5},{"r":12.05,"z":11.5,"r2":13,"z2":11.5},{"r":14,"z":11.5,"r2":14.7,"z2":11.45},{"r":16,"z":11.5,"r2":16.5,"z2":11.3},{"r":18,"z":11.5,"r2":18.8,"z2":11.3},{"r":20,"z":11.5,"r2":21.4,"z2":11.5},{"r":22,"z":11.5,"r2":23.7,"z2":12},{"r":24,"z":11.5,"r2":26,"z2":12.2},{"r":26,"z":11.5,"r2":27.5,"z2":12.2},{"r":28,"z":11.8,"r2":28.9,"z2":11.9},
{"r":10.1,"z":10.5,"r2":11.1,"z2":10.55},{"r":12,"z":10.5,"r2":13.5,"z2":10.5},{"r":14,"z":10.5,"r2":15.1,"z2":10.35},{"r":16,"z":10.5,"r2":17.1,"z2":10.3},{"r":18,"z":10.5,"r2":19.3,"z2":10.4},{"r":20,"z":10.5,"r2":21.6,"z2":10.6},{"r":22,"z":10.5,"r2":23.9,"z2":11},{"r":24,"z":10.5,"r2":25.4,"z2":11},{"r":26,"z":10.5,"r2":26.8,"z2":11},
{"r":10.1,"z":9.5,"r2":10.3,"z2":9.47},{"r":12,"z":9.5,"r2":12.6,"z2":9.5},{"r":14,"z":9.5,"r2":14.7,"z2":9.4},{"r":16,"z":9.5,"r2":16.9,"z2":9.35},{"r":18,"z":9.5,"r2":19.1,"z2":9.5},{"r":20,"z":9.5,"r2":21.3,"z2":9.7},{"r":22,"z":9.5,"r2":23.75,"z2":9.9},{"r":24,"z":9.5,"r2":25.4,"z2":10},{"r":26,"z":9.5,"r2":26.4,"z2":9.8},{"r":28,"z":9.55,"r2":28.1,"z2":9.5},{"r":30,"z":9.5,"r2":29.9,"z2":9.45},
{"r":12,"z":8.5,"r2":12.1,"z2":8.5},{"r":14,"z":8.5,"r2":14.3,"z2":8.4},{"r":16,"z":8.5,"r2":16.7,"z2":8.4},{"r":18,"z":8.5,"r2":18.9,"z2":8.5},{"r":20,"z":8.5,"r2":21.3,"z2":8.85},{"r":22,"z":8.5,"r2":23.7,"z2":8.95},{"r":24,"z":8.5,"r2":25.1,"z2":8.85},
{"r":14,"z":7.55,"r2":14,"z2":7.4},{"r":16,"z":7.5,"r2":16.4,"z2":7.5},{"r":18,"z":7.5,"r2":18.8,"z2":7.5},{"r":20,"z":7.5,"r2":20.6,"z2":7.7},{"r":22,"z":7.5,"r2":22.7,"z2":7.75},{"r":24.3,"z":7.6,"r2":23.7,"z2":7.6},{"r":26,"z":7.6,"r2":26.2,"z2":7.55},
{"r":14,"z":6.4,"r2":14,"z2":6.7},{"r":18.2,"z":6.5,"r2":17.9,"z2":6.5},{"r":20.6,"z":6.6,"r2":20,"z2":6.55},{"r":22.7,"z":6.6,"r2":22.1,"z2":6.55},{"r":24.1,"z":6.5,"r2":23.8,"z2":6.45},{"r":26,"z":6.5,"r2":25.85,"z2":6.5},{"r":28,"z":6.5,"r2":27.9,"z2":6.5},{"r":30,"z":6.5,"r2":29.9,"z2":6.5},
{"r":14,"z":5.5,"r2":14.05,"z2":5.5},{"r":18,"z":5.6,"r2":18,"z2":5.4},{"r":20.5,"z":5.6,"r2":20.1,"z2":5.35},{"r":22.5,"z":5.55,"r2":21.9,"z2":5.5},{"r":24,"z":5.6,"r2":24.2,"z2":5.4},{"r":25.8,"z":5.5,"r2":25.9,"z2":5.4},{"r":27.8,"z":5.5,"r2":27.9,"z2":5.4},{"r":29.8,"z":5.5,"r2":29.9,"z2":5.4},
{"r":14,"z":4.5,"r2":13.9,"z2":4.45},{"r":16,"z":4.6,"r2":16.2,"z2":4.35},{"r":18,"z":4.7,"r2":18.2,"z2":4.2},{"r":20.1,"z":4.4,"r2":21.1,"z2":4.75},{"r":22.4,"z":4.55,"r2":22,"z2":4.4},{"r":24,"z":4.5,"r2":24.05,"z2":4.45},{"r":26,"z":4.5,"r2":26.05,"z2":4.45},{"r":28,"z":4.5,"r2":28.05,"z2":4.45},
{"r":14.3,"z":3.4,"r2":14,"z2":3.3},{"r":16,"z":3.6,"r2":16.3,"z2":3.5},{"r":18.1,"z":3.7,"r2":18.1,"z2":3.3},{"r":20.3,"z":3.7,"r2":20.1,"z2":3.3},{"r":22.2,"z":3.6,"r2":22,"z2":3.3},{"r":24,"z":3.5,"r2":24,"z2":3.45},{"r":26,"z":3.5,"r2":26.05,"z2":3.5},{"r":28,"z":3.5,"r2":28.05,"z2":3.5},
{"r":14.1,"z":2.5,"r2":14.5,"z2":2.4},{"r":16.1,"z":2.6,"r2":16.4,"z2":2.5},{"r":18.3,"z":2.55,"r2":17.9,"z2":2.5},{"r":20.5,"z":2.55,"r2":20.1,"z2":2.55},{"r":22.3,"z":2.5,"r2":22,"z2":2.5},{"r":24,"z":2.5,"r2":24.05,"z2":2.5},{"r":26,"z":2.5,"r2":26.05,"z2":2.5},
{"r":14,"z":1.5,"r2":14.9,"z2":1.5},{"r":16,"z":1.5,"r2":17.2,"z2":1.55},{"r":18,"z":1.5,"r2":19.4,"z2":1.7},{"r":20,"z":1.7,"r2":20.3,"z2":1.35},{"r":25.2,"z":1.5,"r2":25.25,"z2":1.5},
{"r":12,"z":0.55,"r2":11.5,"z2":0.55},{"r":16,"z":0.55,"r2":15.5,"z2":0.6},{"r":18,"z":0.55,"r2":17,"z2":0.55},{"r":20,"z":0.55,"r2":18.5,"z2":0.55},{"r":22,"z":0.55,"r2":20.3,"z2":0.55},{"r":24,"z":0.55,"r2":22.3,"z2":0.55},{"r":26,"z":0.55,"r2":24.2,"z2":0.55},{"r":28,"z":0.55,"r2":26.3,"z2":0.55},{"r":30,"z":0.55,"r2":28.4,"z2":0.55},
{"r":3.5,"z":1.86,"r2":5.5,"z2":1.86}
]},"transform":[{"calculate":"atan2((datum.r2-datum.r)*12.63,(datum.z2-datum.z)*21.25)*180/PI","as":"ang"},{"calculate":"sqrt(pow((datum.r2-datum.r)*12.63,2)+pow((datum.z2-datum.z)*21.25,2))","as":"len"}],"layer":[{"mark":{"type":"rule","color":"black","strokeWidth":1},"encoding":{"x2":{"field":"r2"},"y2":{"field":"z2"}}},{"mark":{"type":"point","shape":"triangle-up","filled":true,"color":"black","opacity":1},"encoding":{"x":{"field":"r2","type":"quantitative"},"y":{"field":"z2","type":"quantitative"},"angle":{"field":"ang","type":"quantitative","scale":null},"size":{"field":"len","type":"quantitative","legend":null,"scale":{"domain":[0,10],"range":[3,110],"clamp":true}}}}]},
{"data":{"values":[{"r":1.2,"z":1.15,"t":"u,w = 5 (m/s)"}]},"mark":{"type":"text","align":"left","fontSize":14,"color":"black"},"encoding":{"text":{"field":"t"}}}
]},
{"width":4,"height":10,"data":{"values":[{"s":0}]},"mark":{"type":"point","opacity":0},"encoding":{},"view":{"stroke":null}},
{"width":16,"height":340,"view":{"stroke":null},"layer":[{"data":{"values":[{"v":1.625},{"v":1.875},{"v":2.125},{"v":2.375},{"v":2.625},{"v":2.875},{"v":3.125},{"v":3.375},{"v":3.625},{"v":3.875},{"v":4.125},{"v":4.375},{"v":4.625},{"v":4.875},{"v":5.125},{"v":5.375},{"v":5.625},{"v":5.875},{"v":6.125},{"v":6.375},{"v":6.625},{"v":6.875},{"v":7.125},{"v":7.375},{"v":7.625},{"v":7.875},{"v":8.125},{"v":8.375},{"v":8.625},{"v":8.875},{"v":9.125},{"v":9.375},{"v":9.625},{"v":9.875},{"v":10.125},{"v":10.375}]},"mark":{"type":"rect","width":16,"height":9.2},"encoding":{"y":{"field":"v","type":"quantitative","scale":{"domain":[1.06,10.97],"nice":false,"zero":false},"axis":{"orient":"right","values":[1.5,2.5,3.5,4.5,5.5,6.5,7.5,8.5,9.5,10.5],"labelExpr":"format(datum.value,'.1f')","labelOverlap":false,"labelFontSize":15,"titleFontSize":14,"title":"Absolute Vorticity × 10⁻³ s(⁻¹)","titleAngle":270,"tickSize":4,"domain":false,"titlePadding":22}},"color":{"field":"v","type":"quantitative","legend":null,"scale":{"domain":[1.5,2.4,3.3,4.2,5.1,6,6.9,7.8,8.7,9.6,10.5],"range":["#5e4fa2","#3288bd","#66c2a5","#abdda4","#e6f598","#ffffbf","#fee08b","#fdae61","#f46d43","#d53e4f","#9e0142"]}}}},{"data":{"values":[{"v":10.73,"e":"top"},{"v":1.28,"e":"bottom"}]},"mark":{"type":"point","filled":true,"size":256,"opacity":1},"encoding":{"y":{"field":"v","type":"quantitative","axis":{"orient":"right","values":[1.5,2.5,3.5,4.5,5.5,6.5,7.5,8.5,9.5,10.5],"labelExpr":"format(datum.value,'.1f')","labelOverlap":false,"labelFontSize":15,"titleFontSize":14,"title":"Absolute Vorticity × 10⁻³ s(⁻¹)","titleAngle":270,"tickSize":4,"domain":false,"titlePadding":22}},"shape":{"field":"e","type":"nominal","legend":null,"scale":{"domain":["top","bottom"],"range":["M-1,1L1,1L0,-1Z","M-1,-1L1,-1L0,1Z"]}},"color":{"field":"e","type":"nominal","legend":null,"scale":{"domain":["top","bottom"],"range":["#9e0142","#5e4fa2"]}}}}],"resolve":{"scale":{"color":"independent"}}},
{"width":114,"height":10,"data":{"values":[{"s":0}]},"mark":{"type":"point","opacity":0},"encoding":{},"view":{"stroke":null}},
{"width":379,"height":340,"title":{"text":"(d)","offset":4},"encoding":{"x":{"field":"r","type":"quantitative","title":"Radius (km)","scale":{"domain":[0,30],"nice":false},"axis":{"values":[0,5,10,15,20,25,30],"labelFontSize":16,"titleFontSize":20,"titlePadding":4,"tickSize":4}},"y":{"field":"z","type":"quantitative","title":"Height (km)","scale":{"domain":[0,16],"nice":false},"axis":{"values":[0,2,4,6,8,10,12,14,16],"labelFontSize":16,"titleFontSize":20,"titlePadding":0,"tickSize":4}}},"layer":[
{"data":{"name":"cells"},"transform":[{"filter":"isValid(datum.d)"}],"mark":{"type":"rect","width":13.2,"height":21.8},"encoding":{"color":{"field":"d","type":"quantitative","legend":null,"scale":{"domain":[-1.2,-0.96,-0.72,-0.48,-0.24,0,0.24,0.48,0.72,0.96,1.2],"range":["#313695","#4575b4","#74add1","#abd9e9","#e0f3f8","#ffffbf","#fee090","#fdae61","#f46d43","#d73027","#a50026"]}}}},
{"data":{"values":[
{"l":"0.1","r":10.3,"z":14.1},{"l":"0.1","r":9.6,"z":13.4},{"l":"0.1","r":9.3,"z":12.6},{"l":"0.1","r":9.95,"z":11.2},{"l":"0.1","r":10.1,"z":10.6},{"l":"0.1","r":9.6,"z":9.9},{"l":"0.1","r":8.8,"z":9.5},
{"l":"0.3","r":16,"z":14.95},{"l":"0.3","r":17,"z":14.5},{"l":"0.3","r":16.9,"z":13.9},{"l":"0.3","r":16.3,"z":12.95},{"l":"0.3","r":16.5,"z":12},{"l":"0.3","r":16.1,"z":11.2},{"l":"0.3","r":15.55,"z":9.95},{"l":"0.3","r":15.3,"z":8.86},{"l":"0.3","r":14.8,"z":8.08},
{"l":"0.5","r":23.3,"z":15.45},{"l":"0.5","r":22,"z":14.8},{"l":"0.5","r":21.2,"z":13.86},{"l":"0.5","r":21.1,"z":13.1},{"l":"0.5","r":19.9,"z":12},{"l":"0.5","r":19.1,"z":11.2},{"l":"0.5","r":18.3,"z":9.8},{"l":"0.5","r":18.1,"z":9},{"l":"0.5","r":17.3,"z":7.6},{"l":"0.5","r":15.55,"z":6.75},
{"l":"0.7","r":30,"z":15.4},{"l":"0.7","r":28.1,"z":14.8},{"l":"0.7","r":25.7,"z":13.7},{"l":"0.7","r":23.6,"z":12.45},{"l":"0.7","r":21.5,"z":11.2},{"l":"0.7","r":19.9,"z":9.95},{"l":"0.7","r":19.4,"z":8.55},{"l":"0.7","r":17.8,"z":6.83},{"l":"0.7","r":16.7,"z":6.05},{"l":"0.7","r":15.95,"z":3.7},{"l":"0.7","r":16,"z":2},{"l":"0.7","r":15.3,"z":0.55},
{"l":"0.9","r":30,"z":14},{"l":"0.9","r":27,"z":12.77},{"l":"0.9","r":24.7,"z":11.5},{"l":"0.9","r":22.55,"z":10.1},{"l":"0.9","r":21,"z":8.86},{"l":"0.9","r":19.9,"z":7.77},{"l":"0.9","r":19.1,"z":6.36},{"l":"0.9","r":18.3,"z":5.1},{"l":"0.9","r":17.8,"z":3.23},{"l":"0.9","r":17.7,"z":1.5},{"l":"0.9","r":16.6,"z":0.55},
{"l":"1.1","r":30,"z":12.77},{"l":"1.1","r":27.8,"z":12},{"l":"1.1","r":25.2,"z":10.7},{"l":"1.1","r":23.6,"z":9.6},{"l":"1.1","r":22.8,"z":8.2},{"l":"1.1","r":21.5,"z":7.1},{"l":"1.1","r":20.4,"z":5.9},{"l":"1.1","r":19.9,"z":4},{"l":"1.1","r":19.5,"z":1.67},{"l":"1.1","r":18.2,"z":0.55},
{"l":"1.3","r":25.7,"z":9.64},{"l":"1.3","r":24.9,"z":8.86},{"l":"1.3","r":23.9,"z":7.77},{"l":"1.3","r":23.1,"z":6.36},{"l":"1.3","r":22.7,"z":4.8},{"l":"1.3","r":21.9,"z":3.08},{"l":"1.3","r":21.9,"z":1.67},{"l":"1.3","r":20.6,"z":0.5},
{"l":"1.5","r":30,"z":7.3},{"l":"1.5","r":28.9,"z":6.36},{"l":"1.5","r":28.6,"z":5.1},{"l":"1.5","r":27,"z":4.17},{"l":"1.5","r":26,"z":2.92},{"l":"1.5","r":26.1,"z":1.83},{"l":"1.5","r":25.3,"z":0.5},
{"l":"1.7","r":30,"z":1.36},{"l":"1.7","r":29.15,"z":0.5},
{"l":"-0.1","r":14.2,"z":3.6},{"l":"-0.1","r":14.1,"z":2.9},{"l":"-0.1","r":14.4,"z":2},{"l":"-0.1","r":14.1,"z":0.5}
]},"mark":{"type":"line","color":"black","strokeWidth":1.2},"encoding":{"detail":{"field":"l"},"order":{"value":null}}},
{"data":{"name":"wind"},"mark":{"type":"line","color":"white","strokeWidth":3.5},"encoding":{"order":{"value":null}}},
{"data":{"values":[{"r":9.75,"z":11.9,"l":"0.1"},{"r":15.9,"z":10.8,"l":"0.3"},{"r":18.6,"z":7.7,"l":"0.7"},{"r":19.4,"z":6.8,"l":"0.9"},{"r":22,"z":7.9,"l":"1.1"},{"r":22.1,"z":4,"l":"1.3"},{"r":26.4,"z":3.7,"l":"1.5"}]},"mark":{"type":"text","color":"black","fontSize":15},"encoding":{"text":{"field":"l"},"angle":{"field":"l","type":"nominal","legend":null,"scale":{"type":"ordinal","domain":["0.1","0.3","0.7","0.9","1.1","1.3","1.5"],"range":[80,280,305,290,295,275,305]}}}}
]},
{"width":6,"height":10,"data":{"values":[{"s":0}]},"mark":{"type":"point","opacity":0},"encoding":{},"view":{"stroke":null}},
{"width":16,"height":340,"view":{"stroke":null},"layer":[{"data":{"values":[{"v":-1.15},{"v":-1.05},{"v":-0.95},{"v":-0.85},{"v":-0.75},{"v":-0.65},{"v":-0.55},{"v":-0.45},{"v":-0.35},{"v":-0.25},{"v":-0.15},{"v":-0.05},{"v":0.05},{"v":0.15},{"v":0.25},{"v":0.35},{"v":0.45},{"v":0.55},{"v":0.65},{"v":0.75},{"v":0.85},{"v":0.95},{"v":1.05},{"v":1.15}]},"mark":{"type":"rect","width":16,"height":13.4},"encoding":{"y":{"field":"v","type":"quantitative","scale":{"domain":[-1.317,1.324],"nice":false,"zero":false},"axis":{"orient":"right","values":[-1.2,-0.9,-0.6,-0.3,0,0.3,0.6,0.9,1.2],"format":".1f","labelExpr":"replace(datum.label,'-','−')","labelOverlap":false,"labelFontSize":15,"titleFontSize":14,"title":"dζ/dr × 10⁻⁶ (m⁻¹s⁻¹)","titleAngle":270,"tickSize":4,"domain":false,"titlePadding":24}},"color":{"field":"v","type":"quantitative","legend":null,"scale":{"domain":[-1.2,-0.96,-0.72,-0.48,-0.24,0,0.24,0.48,0.72,0.96,1.2],"range":["#313695","#4575b4","#74add1","#abd9e9","#e0f3f8","#ffffbf","#fee090","#fdae61","#f46d43","#d73027","#a50026"]}}}},{"data":{"values":[{"v":1.26,"e":"top"},{"v":-1.26,"e":"bottom"}]},"mark":{"type":"point","filled":true,"size":256,"opacity":1},"encoding":{"y":{"field":"v","type":"quantitative"},"shape":{"field":"e","type":"nominal","legend":null,"scale":{"domain":["top","bottom"],"range":["M-1,1L1,1L0,-1Z","M-1,-1L1,-1L0,1Z"]}},"color":{"field":"e","type":"nominal","legend":null,"scale":{"domain":["top","bottom"],"range":["#a50026","#313695"]}}}}],"resolve":{"scale":{"color":"independent"}}}
]}]}
